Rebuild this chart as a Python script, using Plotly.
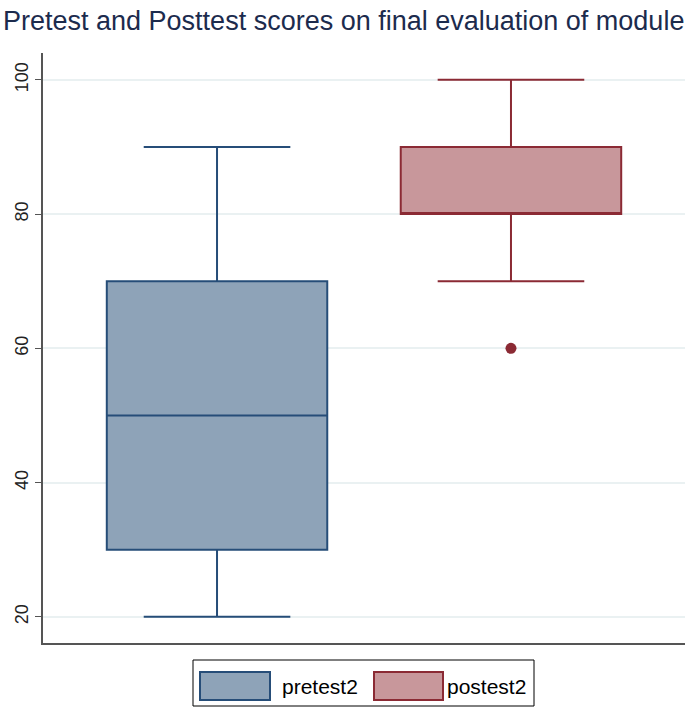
import plotly.graph_objects as go

title = "Pretest and Posttest scores on final evaluation of module"
names = ["pretest2", "postest2"]
lower = [20, 70]
q1 = [30, 80]
median = [50, 80]
q3 = [70, 90]
upper = [90, 100]
outliers = [[], [60]]
fills = ["#8ea3b8", "#c8979b"]
lines = ["#264d78", "#8b2a34"]
yticks = [20, 40, 60, 80, 100]

W, H = 685, 711
L, R, T, B = 43, 0, 53, 68
pw, ph = W - L - R, H - T - B

fig = go.Figure()
for i, n in enumerate(names):
    fig.add_trace(go.Box(
        x=[i], q1=[q1[i]], median=[median[i]], q3=[q3[i]],
        lowerfence=[lower[i]], upperfence=[upper[i]],
        name=n, fillcolor=fills[i], line=dict(color=lines[i], width=2),
        width=0.75, whiskerwidth=0.665, boxpoints=False, showlegend=False,
    ))
    if outliers[i]:
        fig.add_trace(go.Scatter(
            x=[i] * len(outliers[i]), y=outliers[i], mode="markers",
            marker=dict(color=lines[i], size=11, symbol="circle"),
            showlegend=False, hoverinfo="y"))

def px_x(p):
    return (p - L) / pw

def px_y(p):
    return (T + ph - p) / ph

shapes = [dict(type="rect", xref="paper", yref="paper",
               x0=px_x(193), x1=px_x(534), y0=px_y(706), y1=px_y(660),
               line=dict(color="black", width=1), fillcolor="white")]
annos = [dict(text=title, xref="paper", yref="paper", x=px_x(1), y=px_y(21),
              xanchor="left", yanchor="middle", showarrow=False,
              font=dict(size=27, color="#1c2b4d"))]
sw = [(200, 270, 280), (374, 443, 445)]
for i, n in enumerate(names):
    x0, x1, tx = sw[i]
    shapes.append(dict(type="rect", xref="paper", yref="paper",
                       x0=px_x(x0), x1=px_x(x1), y0=px_y(700), y1=px_y(672),
                       line=dict(color=lines[i], width=2), fillcolor=fills[i]))
    annos.append(dict(text=n, xref="paper", yref="paper", x=px_x(tx), y=px_y(686),
                      xanchor="left", yanchor="middle", showarrow=False,
                      font=dict(size=21, color="black")))

fig.update_layout(
    width=W, height=H, margin=dict(l=L, r=R, t=T, b=B),
    paper_bgcolor="white", plot_bgcolor="white",
    font=dict(family="Liberation Sans, Arial, sans-serif", color="#222222"),
    showlegend=False, shapes=shapes, annotations=annos,
    xaxis=dict(range=[-0.592, 1.592], showticklabels=False, ticks="",
               showgrid=False, zeroline=False, showline=True,
               linecolor="#555555", linewidth=1.5, fixedrange=True),
    yaxis=dict(range=[16.1, 104], tickvals=yticks, ticks="outside", ticklen=6,
               tickcolor="#555555", tickangle=-90, tickfont=dict(size=18, color="#222222"),
               showgrid=True, gridcolor="#eaf1f2", gridwidth=1.5, zeroline=False,
               showline=True, linecolor="#555555", linewidth=1.5),
)
fig.write_html("out.html", config={"displayModeBar": False},
               post_script="document.body.style.margin='0px';")
